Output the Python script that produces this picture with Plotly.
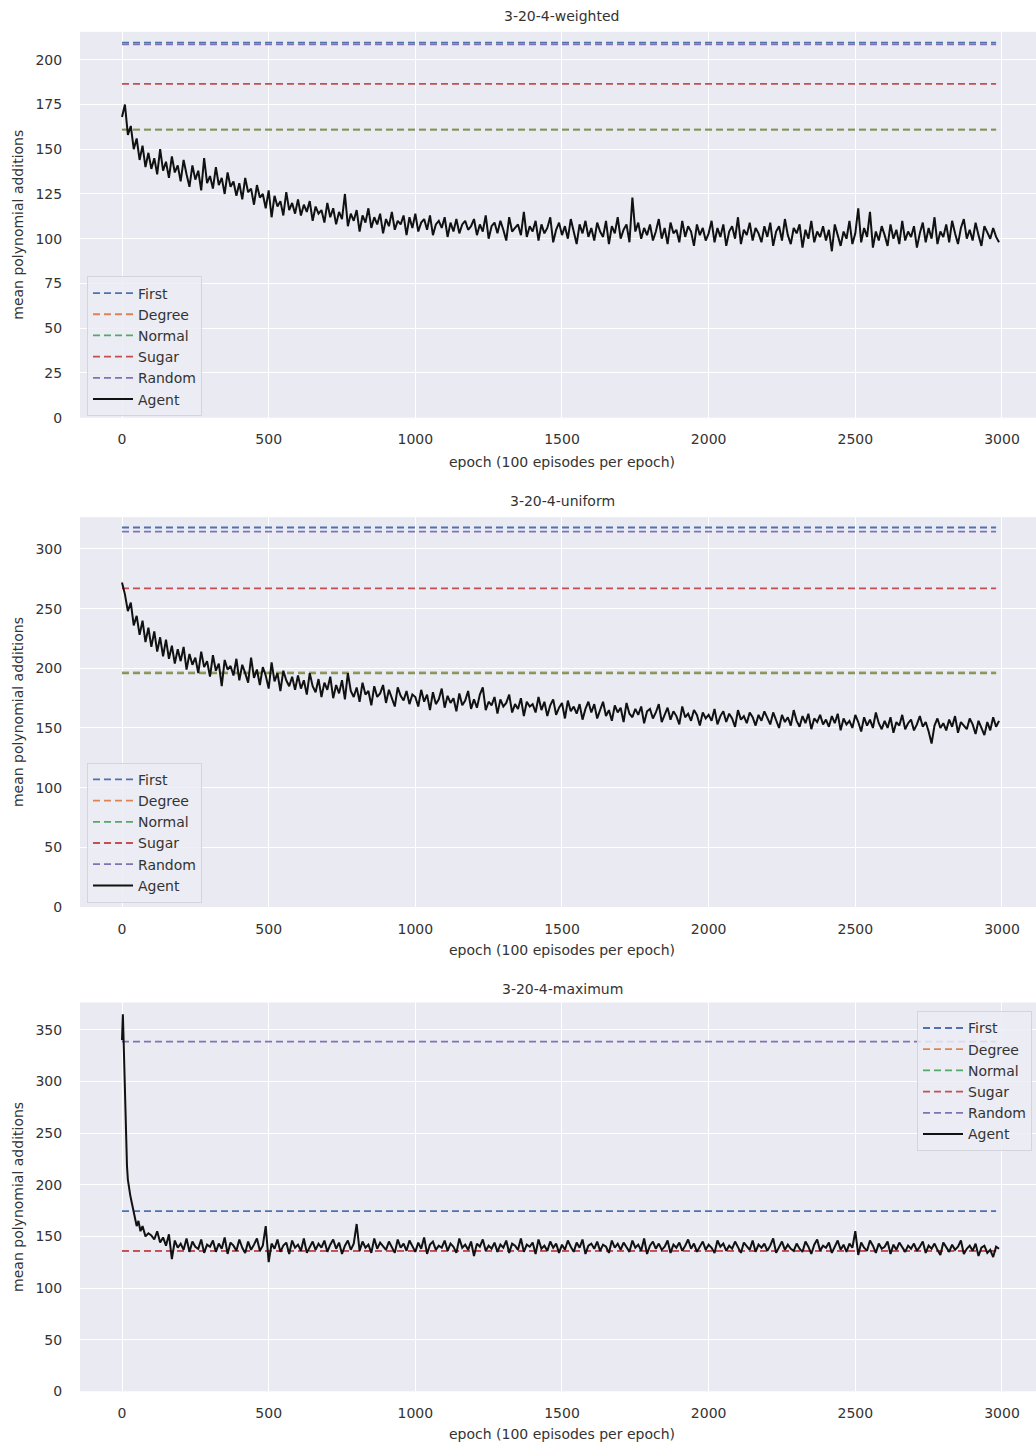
import numpy as np
import plotly.graph_objects as go

# ---------------- data ----------------
titles = ["3-20-4-weighted", "3-20-4-uniform", "3-20-4-maximum"]
baseline_names = ["First", "Degree", "Normal", "Sugar", "Random"]
baseline_colors = ["#4C72B0", "#DD8452", "#55A868", "#C44E52", "#8172B3"]

# baseline values per panel: First, Degree, Normal, Sugar, Random
base_weighted = [209.6, 161.0, 161.0, 186.5, 208.6]
base_uniform = [318.0, 196.5, 195.7, 267.0, 314.5]
base_maximum = [174.5, 136.0, 136.0, 136.0, 338.5]
baseline_span = [0, 2980]

epochs = np.arange(0, 3000, 10)

agent_weighted = [
    168,175,158,163,150,156,144,152,140,148,139,145,136,150,138,143,134,146,137,141,
    132,144,136,129,141,133,138,127,145,131,135,128,140,130,134,125,137,129,132,124,
    131,122,134,126,128,119,130,123,125,117,127,112,124,118,121,113,126,116,120,114,
    122,113,119,115,121,110,118,114,116,109,120,112,117,108,115,111,125,107,114,110,
    116,104,113,109,117,106,112,108,114,103,111,107,115,105,110,108,113,102,112,106,
    114,104,109,111,105,113,102,108,110,106,112,101,109,104,111,103,108,110,105,107,
    111,102,108,104,113,100,107,109,103,110,105,99,112,104,106,108,102,115,101,107,
    104,110,99,108,103,106,112,98,105,109,102,107,100,111,104,97,108,103,110,101,
    106,99,109,104,101,110,97,107,103,112,100,105,108,98,123,104,109,100,106,102,
    108,99,104,111,100,106,97,109,103,105,98,110,101,107,104,96,108,102,106,99,
    103,110,98,106,101,108,96,104,107,100,112,97,105,102,109,99,106,103,98,107,
    101,109,96,104,107,99,111,102,97,106,103,108,95,105,100,110,98,104,101,107,
    99,105,93,108,102,96,104,100,110,97,103,117,98,106,101,115,95,104,99,107,
    102,96,108,100,105,97,110,99,104,101,107,95,103,109,98,106,100,112,97,104,
    101,108,98,110,103,97,106,111,100,105,99,109,102,96,107,103,100,106,101,98,
]

agent_uniform = [
    272,262,248,255,236,244,228,240,222,234,218,231,214,226,210,224,208,219,204,216,
    206,218,199,212,203,209,196,214,201,206,193,211,198,204,185,207,199,202,194,208,
    190,203,196,188,209,192,199,186,201,194,183,205,189,196,181,198,190,185,193,182,
    194,183,190,178,196,185,180,191,176,188,182,193,175,186,179,190,174,196,181,176,
    184,172,188,178,181,169,185,176,179,186,171,182,175,168,184,177,173,181,170,178,
    176,168,182,172,178,165,180,170,174,183,167,177,171,175,164,179,169,173,181,166,
    174,167,178,184,165,172,169,176,162,174,168,171,178,163,170,166,175,160,172,168,
    170,163,176,165,172,160,169,174,161,167,171,158,173,164,168,162,170,157,166,172,
    163,170,158,166,172,160,165,156,169,163,167,155,171,162,159,166,161,168,154,164,
    166,158,163,170,155,161,167,157,164,160,153,168,159,162,156,165,161,152,163,158,
    161,156,166,153,160,164,155,162,158,151,165,157,160,154,163,159,152,161,156,164,
    158,153,163,157,150,161,155,159,152,165,156,151,160,154,162,149,158,155,161,153,
    157,151,160,154,162,148,158,153,156,150,161,155,147,159,152,157,150,163,154,149,
    156,150,159,146,155,152,161,149,154,157,148,153,160,151,155,147,137,152,158,150,
    154,148,157,151,160,146,155,152,149,158,153,145,156,150,144,155,148,159,151,156,
]

# maximum: dense early part, then every 10 epochs from 100
max_early_epochs = [0, 3, 5, 8, 11, 14, 17, 20, 24, 28, 33, 38, 44, 50, 56, 63, 70, 80, 90]
max_early_values = [340, 365, 345, 310, 280, 250, 218, 205, 195, 190, 183, 176, 168, 160, 165, 155, 160, 150, 153]
max_late_epochs = np.arange(100, 3000, 10)
max_late_values = [
    151,147,155,144,149,141,152,128,146,139,143,137,148,135,145,140,138,147,134,142,
    140,146,135,143,138,149,133,144,141,136,147,139,134,145,137,142,148,136,141,160,
    125,143,138,147,135,141,144,133,146,139,142,136,148,134,140,145,137,143,139,146,
    135,142,147,138,144,133,141,146,137,143,162,136,145,139,142,134,148,138,144,140,
    137,145,140,134,147,139,143,136,146,141,135,144,138,149,133,142,145,137,141,139,
    146,136,143,140,134,148,139,142,137,145,131,143,140,147,136,141,138,144,135,142,
    139,146,134,143,141,137,148,135,142,140,144,133,147,138,141,136,145,139,143,134,
    142,137,146,140,135,144,139,147,133,141,143,138,145,136,142,140,134,146,139,143,
    137,144,140,135,146,139,142,136,148,133,141,145,138,143,137,140,146,134,142,139,
    144,136,141,147,138,143,135,140,145,137,142,139,134,146,140,143,136,141,138,145,
    139,134,144,140,137,146,135,142,139,143,136,141,148,134,140,145,137,142,138,136,
    143,138,135,145,140,133,142,147,136,141,139,144,134,140,146,137,142,135,143,139,
    155,132,144,139,136,146,141,134,143,138,140,145,133,142,137,144,139,135,141,138,
    143,136,140,145,134,141,138,143,137,132,144,139,135,142,137,140,146,133,138,141,
    136,143,131,139,141,134,137,130,140,138,
]

x_ticks = [0, 500, 1000, 1500, 2000, 2500, 3000]

# ---------------- layout geometry ----------------
W, H = 1036, 1454
px_left = 80
panels_px = [(32, 420), (520, 912), (1008, 1399)]  # top, bottom in pixels
y_ranges = [[0, 215.6], [0, 326.7], [0, 376.5]]
y_dticks = [25, 50, 50]
x_range = [-143.2, 3116]
title_y_px = [16, 504, 994]
xtitle_y_px = [465, 955, 1442]

FONT = "DejaVu Sans"
TXT = "#333333"

fig = go.Figure()

panel_data = [
    (base_weighted, epochs, agent_weighted),
    (base_uniform, epochs, agent_uniform),
    (base_maximum,
     np.concatenate([max_early_epochs, max_late_epochs]),
     np.concatenate([max_early_values, max_late_values])),
]

for p, (bases, ax_x, ax_y) in enumerate(panel_data):
    suffix = "" if p == 0 else str(p + 1)
    xa = "x" + suffix
    ya = "y" + suffix
    leg = "legend" + suffix
    for name, col, val in zip(baseline_names, baseline_colors, bases):
        fig.add_trace(go.Scatter(
            x=baseline_span, y=[val, val], mode="lines", name=name,
            line=dict(color=col, width=1.8, dash="7px,4px"),
            xaxis=xa, yaxis=ya, legend=leg, hoverinfo="skip"))
    fig.add_trace(go.Scatter(
        x=ax_x, y=ax_y, mode="lines", name="Agent",
        line=dict(color="#111111", width=2),
        xaxis=xa, yaxis=ya, legend=leg))

layout = dict(
    width=W, height=H,
    margin=dict(l=0, r=0, t=0, b=0),
    paper_bgcolor="white",
    plot_bgcolor="#EAEAF2",
    font=dict(family=FONT, size=14, color=TXT),
    showlegend=True,
)

annotations = []
legend_pos = [(87, 278, "left"), (87, 767, "left"), (1032, 1017, "right")]
for p in range(3):
    suffix = "" if p == 0 else str(p + 1)
    top, bot = panels_px[p]
    dom = [1 - bot / H, 1 - top / H]
    layout["xaxis" + suffix] = dict(
        domain=[px_left / W, 1.0], range=x_range, anchor="y" + suffix,
        tickvals=x_ticks, showgrid=True, gridcolor="white", gridwidth=1.2,
        zeroline=False, showline=False,
        ticks="outside", ticklen=9, tickcolor="rgba(0,0,0,0)",
        tickfont=dict(family=FONT, size=14, color=TXT))
    layout["yaxis" + suffix] = dict(
        domain=dom, range=y_ranges[p], anchor="x" + suffix,
        dtick=y_dticks[p], tick0=0, showgrid=True, gridcolor="white", gridwidth=1.2,
        zeroline=False, showline=False,
        ticks="outside", ticklen=14, tickcolor="rgba(0,0,0,0)",
        tickfont=dict(family=FONT, size=14, color=TXT))
    lx, ly, anch = legend_pos[p]
    layout["legend" + suffix] = dict(
        x=lx / W, y=1 - ly / H, xanchor=anch, yanchor="top",
        bgcolor="rgba(236,236,244,0.85)", bordercolor="#D4D4DC", borderwidth=1,
        font=dict(family=FONT, size=14, color=TXT),
        tracegroupgap=0, itemwidth=40)
    # subplot title
    annotations.append(dict(
        text=titles[p], x=562 / W, y=1 - title_y_px[p] / H, xref="paper", yref="paper",
        xanchor="center", yanchor="middle", showarrow=False,
        font=dict(family=FONT, size=14, color=TXT)))
    # x-axis title
    annotations.append(dict(
        text="epoch (100 episodes per epoch)", x=562 / W, y=1 - xtitle_y_px[p] / H,
        xref="paper", yref="paper", xanchor="center", yanchor="middle", showarrow=False,
        font=dict(family=FONT, size=14, color=TXT)))
    # y-axis title
    annotations.append(dict(
        text="mean polynomial additions", x=18 / W, y=1 - ((top + bot) / 2) / H,
        xref="paper", yref="paper", xanchor="center", yanchor="middle", showarrow=False,
        textangle=-90, font=dict(family=FONT, size=14, color=TXT)))

layout["annotations"] = annotations
fig.update_layout(**layout)

fig.write_html("out.html")
